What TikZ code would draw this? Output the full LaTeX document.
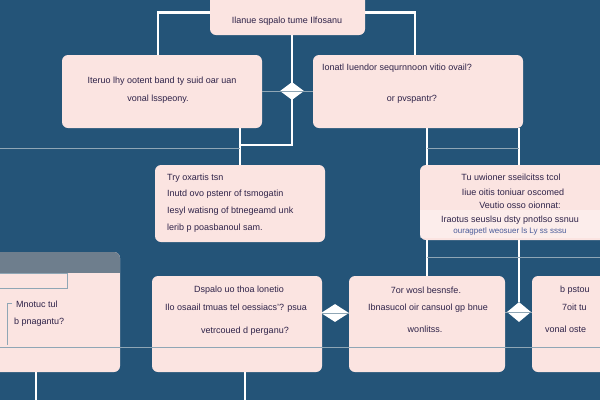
\documentclass[tikz,border=0pt]{standalone}
\usepackage{fontspec}
\setmainfont{Liberation Sans}
\usetikzlibrary{shapes.geometric}
\definecolor{bgc}{HTML}{245478}
\definecolor{boxfill}{HTML}{FBE4E1}
\definecolor{ink}{HTML}{2E2248}
\definecolor{thinc}{HTML}{8FA6B5}
\definecolor{hdr}{HTML}{6E7E8D}
\definecolor{inkblue}{HTML}{4A5C9A}
\pgfdeclarelayer{back}
\pgfsetlayers{back,main}
\begin{document}
\begin{tikzpicture}[x=1pt,y=-1pt,
  box/.style={fill=boxfill, rounded corners=6pt, inner sep=0pt, outer sep=0pt, anchor=north west},
  conn/.style={draw=white, line width=2.6pt},
  thinline/.style={draw=thinc, line width=0.8pt},
  lbl/.style={text=ink, font=\fontsize{9}{11}\selectfont, inner sep=0pt},
  dia/.style={diamond, fill=white, inner sep=0pt, minimum width=24pt, minimum height=18pt}]
\useasboundingbox (0,0) rectangle (600,400);
\clip (0,0) rectangle (600,400);
% boxes
\node[box, minimum width=155pt, minimum height=45pt] (T) at (210,-10) {};
\node[box, minimum width=200pt, minimum height=73pt] (A) at (62,55) {};
\node[box, minimum width=210pt, minimum height=73pt] (B) at (313,55) {};
\node[box, minimum width=170pt, minimum height=77pt] (C) at (155,165) {};
\node[box, minimum width=190pt, minimum height=75pt] (E) at (420,165) {};
\node[box, minimum width=130pt, minimum height=120pt] (H) at (-10,252) {};
\node[box, minimum width=170pt, minimum height=96pt] (I) at (152,276) {};
\node[box, minimum width=156pt, minimum height=96pt] (F) at (349,276) {};
\node[box, minimum width=80pt, minimum height=96pt] (G) at (532,276) {};
% diamonds
\node[dia] (d1) at (292,91) {};
\node[dia, minimum width=28pt] (d2) at (335,313) {};
\node[dia, minimum width=24pt, minimum height=20pt] (d3) at (519,312) {};
% helper coordinates
\coordinate (k1) at (292,145);
\coordinate (L1) at (0,148);
\coordinate (L2) at (600,257);
\coordinate (L3a) at (0,347);
\coordinate (L3b) at (600,347);
\coordinate (e1) at (36,400);
\coordinate (e2) at (245,400);
% background and connectors behind boxes
\begin{pgfonlayer}{back}
\fill[bgc] (0,0) rectangle (600,400);
\draw[conn] (T.west) -| ([xshift=-4pt]A.north);
\draw[conn] (T.east) -| ([xshift=-3pt]B.north);
\draw[conn] (T.south -| k1) -- (k1) -| (C.north);
\draw[conn] (A.south -| C.north) -- (k1 -| C.north);
\draw[conn] (B.south -| F.north) -- (F.north);
\draw[conn] (B.south -| d3) -- (d3.north);
\draw[conn] (H.south -| e1) -- (e1);
\draw[conn] (I.south -| e2) -- (e2);
\end{pgfonlayer}
% header band of H
\begin{scope}
\clip[rounded corners=6pt] (-10,252) rectangle (120,372);
\fill[hdr] (-10,252) rectangle (120,273);
\end{scope}
\draw[thinc, line width=0.6pt] (-2,273) rectangle (67,288);
\draw[thinc, line width=0.6pt] (12,303) -- (7,303) -- (7,345);
\fill[white, opacity=0.35] (420,210) rectangle (600,238);
% thin lines
\draw[thinline] (L1) -- (L1 -| C.north);
\draw[thinline] (F.north |- L1) -- (d3 |- L1);
\draw[thinline] (F.north |- L2) -- (L2);
\draw[thinline] (A.east |- d1) -- (B.west |- d1);
\draw[thinline] (I.east |- d2) -- (F.west |- d2);
\draw[thinline] (F.east |- d3) -- (G.west |- d3);
\draw[thinline] (L3a) -- (L3b);
% texts
\node[lbl] (t1) at (287,21) {Ilanue sqpalo tume Ilfosanu};
\node[lbl] (a1) at (162,81) {Iteruo lhy ootent band ty suid oar uan};
\node[lbl] (a2) at (158,99) {vonal lsspeony.};
\node[lbl, anchor=west] (b1) at (322,68) {Ionatl Iuendor sequrnnoon vitio ovail?};
\node[lbl] (b2) at (412,99) {or pvspantr?};
\node[lbl, anchor=west] (c1) at (167,178) {Try oxartis tsn};
\node[lbl, anchor=west] (c2) at (167,194) {Inutd ovo pstenr of tsmogatin};
\node[lbl, anchor=west] (c3) at (167,211) {Iesyl watisng of btnegeamd unk};
\node[lbl, anchor=west] (c4) at (167,228) {lerib p poasbanoul sam.};
\node[lbl] (x1) at (511,177) {Tu uwioner sseilcitss tcol};
\node[lbl] (x2) at (513,192) {Iiue oitis toniuar oscomed};
\node[lbl] (x3) at (520,205) {Veutio osso oionnat:};
\node[lbl] (x4) at (510,220) {Iraotus seuslsu dsty pnotlso ssnuu};
\node[lbl, text=inkblue, font=\fontsize{8}{10}\selectfont] (x5) at (510,231) {ouragpetl weosuer ls Ly ss sssu};
\node[lbl, anchor=west] (h1) at (16,304) {Mnotuc tul};
\node[lbl, anchor=west] (h2) at (14,322) {b pnagantu?};
\node[lbl] (i1) at (239,290) {Dspalo uo thoa lonetio};
\node[lbl] (i2) at (236,308) {Ilo osaail tmuas tel oessiacs'? psua};
\node[lbl] (i3) at (245,331) {vetrcoued d perganu?};
\node[lbl] (f1) at (426,290) {7or wosl besnsfe.};
\node[lbl] (f2) at (428,308) {Ibnasucol oir cansuol gp bnue};
\node[lbl] (f3) at (425,329) {wonlitss.};
\node[lbl, anchor=west] (g1) at (560,290) {b pstou};
\node[lbl, anchor=west] (g2) at (562,307) {7oit tu};
\node[lbl, anchor=west] (g3) at (545,329) {vonal oste};
\end{tikzpicture}
\end{document}
